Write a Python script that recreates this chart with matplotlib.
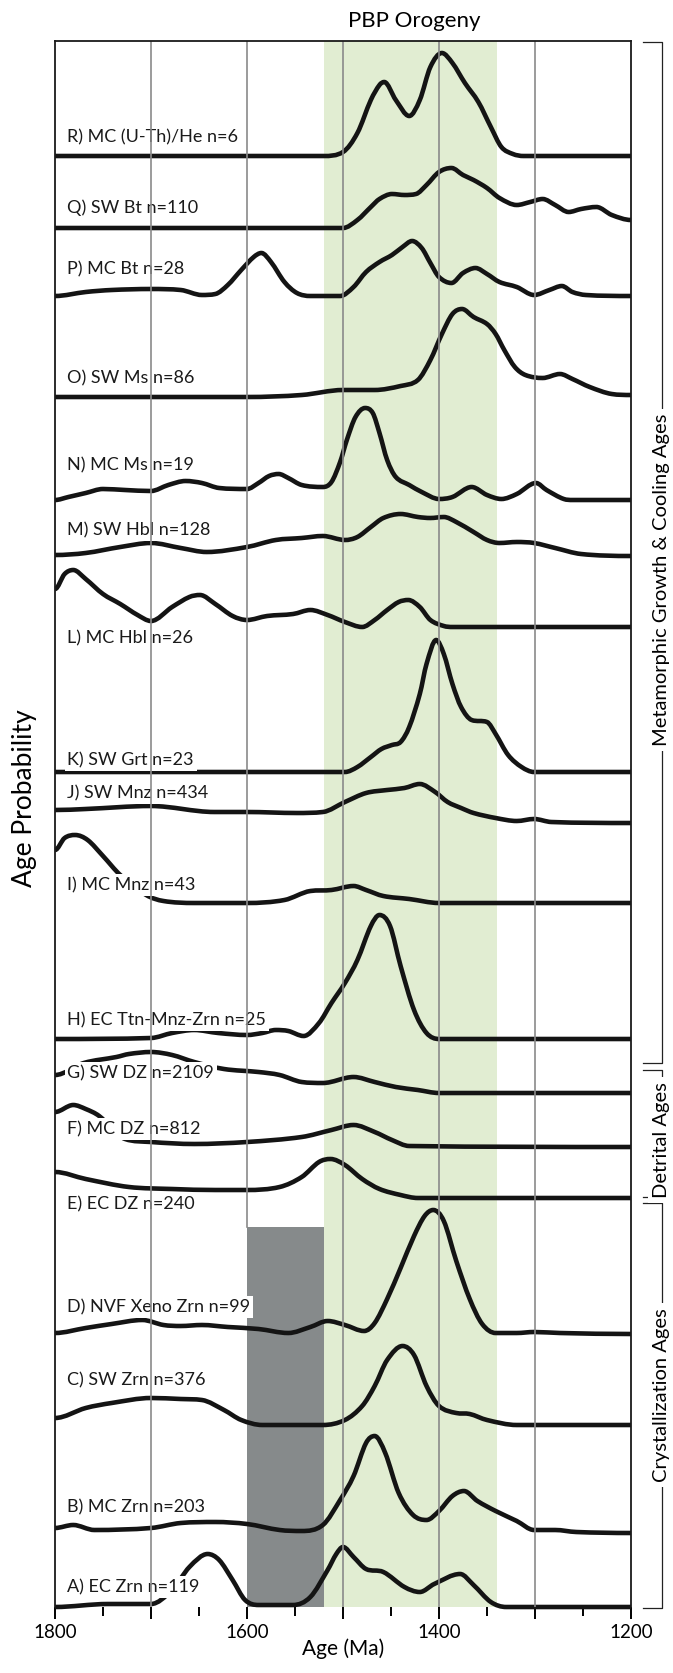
import numpy as np
import matplotlib
matplotlib.use("Agg")
import matplotlib.pyplot as plt
from matplotlib.path import Path
from matplotlib.patches import PathPatch, Rectangle
from matplotlib.lines import Line2D
from matplotlib.ticker import MultipleLocator, FuncFormatter

plt.rcParams['font.family'] = ['Lato', 'DejaVu Sans']

# ---- data: age (Ma) and relative probability height for each sample ----
labels = ["R) MC (U-Th)/He n=6", "Q) SW Bt n=110", "P) MC Bt n=28", "O) SW Ms n=86",
          "N) MC Ms n=19", "M) SW Hbl n=128", "L) MC Hbl n=26", "K) SW Grt n=23",
          "J) SW Mnz n=434", "I) MC Mnz n=43", "H) EC Ttn-Mnz-Zrn n=25", "G) SW DZ n=2109",
          "F) MC DZ n=812", "E) EC DZ n=240", "D) NVF Xeno Zrn n=99", "C) SW Zrn n=376",
          "B) MC Zrn n=203", "A) EC Zrn n=119"]

R_age = [1800, 1520, 1500, 1485, 1471, 1462, 1457, 1445, 1431, 1420, 1409, 1397, 1386, 1373, 1359, 1346, 1335, 1323, 1312, 1200]
R_h = [0, 0, 4, 23, 56, 71, 74, 56, 40, 56, 89, 103, 93, 73, 54, 29, 9, 2, 0, 0]

Q_age = [1800, 1500, 1485, 1471, 1462, 1449, 1436, 1424, 1413, 1400, 1387, 1375, 1364, 1350, 1337, 1319, 1305, 1292, 1279, 1265, 1252, 1236, 1220, 1200]
Q_h = [0, 0, 8, 21, 29, 34, 33, 34, 43, 56, 60, 53, 48, 40, 30, 23, 26, 29, 23, 16, 19, 21, 13, 8]

P_age = [1800, 1768, 1741, 1700, 1669, 1647, 1633, 1620, 1606, 1593, 1585, 1575, 1561, 1548, 1534, 1503, 1489, 1476, 1462, 1449, 1438, 1428, 1418, 1409, 1400, 1387, 1375, 1362, 1350, 1337, 1319, 1301, 1285, 1272, 1261, 1247, 1200]
P_h = [0, 4, 6, 7, 6, 1, 2, 11, 26, 39, 43, 34, 14, 3, 0, 0, 9, 24, 34, 41, 49, 55, 48, 33, 19, 13, 23, 28, 22, 14, 9, 1, 6, 10, 4, 1, 0]

O_age = [1800, 1700, 1600, 1543, 1500, 1467, 1440, 1422, 1409, 1397, 1386, 1376, 1364, 1350, 1341, 1332, 1321, 1310, 1292, 1274, 1261, 1243, 1220, 1200]
O_h = [0, 0, 0, 2, 7, 7, 11, 17, 37, 63, 83, 88, 80, 73, 63, 47, 30, 22, 19, 23, 18, 10, 3, 2]

N_age = [1800, 1786, 1768, 1750, 1727, 1700, 1682, 1664, 1647, 1629, 1600, 1588, 1577, 1567, 1557, 1543, 1521, 1512, 1503, 1496, 1487, 1477, 1469, 1462, 1454, 1445, 1431, 1418, 1400, 1386, 1366, 1350, 1335, 1319, 1299, 1288, 1270, 1261, 1200]
N_h = [0, 3, 7, 11, 10, 9, 15, 19, 17, 12, 11, 17, 24, 26, 22, 15, 13, 18, 38, 60, 83, 92, 87, 67, 40, 23, 15, 8, 1, 3, 13, 5, 1, 6, 17, 10, 1, 0, 0]

M_age = [1800, 1768, 1732, 1700, 1669, 1642, 1600, 1570, 1543, 1521, 1498, 1485, 1471, 1458, 1440, 1422, 1409, 1395, 1382, 1364, 1350, 1337, 1319, 1301, 1279, 1252, 1200]
M_h = [1, 3, 9, 13, 8, 4, 9, 16, 18, 20, 16, 19, 29, 38, 42, 39, 38, 39, 34, 24, 16, 13, 14, 13, 8, 2, 0]

L_age = [1800, 1790, 1781, 1768, 1750, 1732, 1714, 1700, 1678, 1660, 1649, 1633, 1615, 1600, 1579, 1552, 1534, 1516, 1498, 1480, 1467, 1454, 1442, 1432, 1420, 1409, 1395, 1386, 1200]
L_h = [38, 53, 57, 48, 33, 23, 12, 6, 20, 30, 32, 23, 11, 7, 11, 13, 17, 12, 5, 0, 7, 17, 25, 27, 20, 7, 1, 0, 0]

K_age = [1800, 1498, 1485, 1471, 1460, 1449, 1440, 1431, 1420, 1413, 1403, 1395, 1386, 1377, 1366, 1350, 1341, 1328, 1314, 1301, 1200]
K_h = [0, 0, 5, 15, 23, 27, 30, 45, 78, 108, 132, 118, 88, 65, 52, 50, 38, 17, 5, 0, 0]

J_age = [1800, 1768, 1700, 1634, 1600, 1548, 1521, 1498, 1476, 1454, 1436, 1420, 1404, 1391, 1377, 1364, 1341, 1319, 1301, 1283, 1200]
J_h = [13, 14, 17, 11, 11, 10, 11, 21, 30, 33, 35, 39, 31, 21, 15, 10, 5, 2, 4, 1, 0]

I_age = [1800, 1790, 1779, 1766, 1750, 1732, 1705, 1687, 1655, 1600, 1561, 1534, 1512, 1489, 1476, 1458, 1431, 1400, 1200]
I_h = [53, 65, 68, 63, 47, 28, 8, 2, 0, 0, 3, 12, 13, 17, 13, 7, 4, 0, 0]

H_age = [1800, 1700, 1678, 1655, 1630, 1600, 1584, 1570, 1557, 1541, 1525, 1512, 1498, 1485, 1471, 1462, 1451, 1440, 1426, 1413, 1400, 1200]
H_h = [0, 1, 6, 9, 6, 4, 6, 9, 8, 3, 16, 36, 56, 79, 113, 124, 113, 73, 29, 6, 0, 0]

G_age = [1800, 1770, 1736, 1723, 1700, 1678, 1655, 1624, 1588, 1566, 1543, 1521, 1489, 1467, 1445, 1422, 1400, 1200]
G_h = [18, 30, 36, 39, 41, 38, 31, 24, 21, 18, 11, 10, 16, 11, 6, 3, 0, 0]

F_age = [1800, 1781, 1768, 1754, 1727, 1700, 1655, 1600, 1543, 1512, 1489, 1467, 1449, 1431, 1200]
F_h = [35, 42, 38, 31, 8, 5, 3, 5, 10, 17, 22, 15, 7, 1, 0]

E_age = [1800, 1768, 1723, 1678, 1633, 1600, 1566, 1543, 1525, 1513, 1498, 1480, 1462, 1440, 1422, 1200]
E_h = [26, 19, 11, 9, 8, 8, 11, 21, 36, 39, 33, 19, 9, 3, 0, 0]

D_age = [1800, 1768, 1741, 1709, 1687, 1669, 1647, 1620, 1588, 1557, 1534, 1516, 1498, 1478, 1467, 1454, 1440, 1426, 1415, 1406, 1395, 1382, 1368, 1355, 1341, 1319, 1301, 1274, 1200]
D_h = [1, 6, 10, 14, 9, 8, 9, 7, 5, 1, 7, 13, 9, 3, 11, 35, 66, 98, 118, 124, 113, 73, 35, 10, 1, 1, 2, 1, 0]

C_age = [1800, 1768, 1741, 1700, 1669, 1647, 1624, 1606, 1584, 1521, 1498, 1480, 1467, 1454, 1438, 1426, 1413, 1400, 1382, 1368, 1350, 1319, 1200]
C_h = [7, 17, 22, 27, 26, 25, 15, 5, 0, 0, 5, 19, 39, 65, 79, 70, 39, 19, 12, 11, 5, 0, 0]

B_age = [1800, 1781, 1759, 1700, 1669, 1633, 1600, 1566, 1543, 1521, 1503, 1489, 1476, 1467, 1456, 1442, 1427, 1413, 1400, 1386, 1374, 1360, 1341, 1319, 1301, 1279, 1257, 1200]
B_h = [5, 8, 3, 5, 10, 11, 9, 3, 2, 8, 33, 57, 90, 97, 80, 40, 18, 13, 22, 37, 42, 32, 22, 12, 3, 3, 1, 0]

A_age = [1800, 1745, 1700, 1678, 1660, 1641, 1629, 1615, 1602, 1588, 1552, 1534, 1516, 1507, 1500, 1489, 1476, 1458, 1436, 1420, 1405, 1378, 1364, 1346, 1330, 1200]
A_h = [0, 3, 3, 17, 40, 53, 47, 27, 7, 2, 2, 10, 37, 53, 60, 50, 38, 35, 20, 15, 23, 33, 22, 5, 0, 0]

ages = [R_age, Q_age, P_age, O_age, N_age, M_age, L_age, K_age, J_age,
        I_age, H_age, G_age, F_age, E_age, D_age, C_age, B_age, A_age]
heights = [R_h, Q_h, P_h, O_h, N_h, M_h, L_h, K_h, J_h,
           I_h, H_h, G_h, F_h, E_h, D_h, C_h, B_h, A_h]

# ---- layout (vertical offset of each curve, label height) ----
offsets = [1451, 1379, 1311, 1210, 1107, 1051, 980, 835, 784, 704, 568, 514, 460, 409, 273, 182, 74, 0]
label_y = [1470, 1399, 1338, 1229, 1142, 1077, 969, 847, 814, 722, 587, 534, 478, 403, 300, 227, 100, 20]

orogeny = (1520, 1340)
gap_box = (1600, 1520, 380)  # start, end, top of grey box

W, H = 673, 1673
fig = plt.figure(figsize=(W / 100, H / 100), dpi=100)
ax_l, ax_r, ax_t, ax_b = 55, 631, 40.5, 1607
ax = fig.add_axes([ax_l / W, 1 - ax_b / H, (ax_r - ax_l) / W, (ax_b - ax_t) / H])
ax.set_xlim(1800, 1200)
ax.set_ylim(0, ax_b - ax_t)


def smooth_path(x, y):
    """Smooth cubic bezier through the points (central slopes, no overshoot)."""
    x = np.asarray(x, float)
    y = np.asarray(y, float)
    d = np.diff(y) / np.diff(x)
    m = np.zeros_like(y)
    for i in range(1, len(y) - 1):
        if d[i - 1] * d[i] > 0:
            c = (y[i + 1] - y[i - 1]) / (x[i + 1] - x[i - 1])
            lim = 3 * min(abs(d[i - 1]), abs(d[i]))
            m[i] = np.sign(c) * min(abs(c), lim)
    verts = [(x[0], y[0])]
    codes = [Path.MOVETO]
    for i in range(len(x) - 1):
        dx = x[i + 1] - x[i]
        verts += [(x[i] + dx / 3, y[i] + m[i] * dx / 3),
                  (x[i + 1] - dx / 3, y[i + 1] - m[i + 1] * dx / 3),
                  (x[i + 1], y[i + 1])]
        codes += [Path.CURVE4] * 3
    return Path(verts, codes)


ax.axvspan(orogeny[0], orogeny[1], color="#e1edd2", lw=0, zorder=0)
ax.add_patch(Rectangle((gap_box[0], 0), gap_box[1] - gap_box[0], gap_box[2],
                       facecolor="#868a8b", edgecolor="none", zorder=2))

for a, h, off in zip(ages, heights, offsets):
    p = smooth_path(a, np.asarray(h) + off)
    ax.add_patch(PathPatch(p, fill=False, edgecolor="#141414", lw=3.3,
                           capstyle="butt", joinstyle="round", zorder=3, clip_on=False))

for lab, ly in zip(labels, label_y):
    ax.text(1787, ly, lab, fontsize=13, ha="left", va="center", color="#1a1a1a", zorder=4,
            bbox=dict(boxstyle="square,pad=0.15", facecolor="white", edgecolor="none"))

for g in [1700, 1600, 1500, 1400, 1300]:
    top = ax_b - ax_t
    bottom = gap_box[2] / top if g == 1600 else 0
    ax.axvline(g, ymin=bottom, ymax=1, color="#8a8a8a", lw=1.2, zorder=5)

for s in ["left", "right", "top", "bottom"]:
    ax.spines[s].set_linewidth(1.3)
    ax.spines[s].set_color("#1a1a1a")
    ax.spines[s].set_zorder(6)
ax.spines["bottom"].set_visible(False)

ax.set_yticks([])
ax.xaxis.set_major_locator(MultipleLocator(100))
ax.xaxis.set_minor_locator(MultipleLocator(50))
ax.xaxis.set_major_formatter(FuncFormatter(lambda v, p: f"{int(v)}" if int(v) % 200 == 0 else ""))
ax.tick_params(axis="x", which="major", direction="out", length=8.5, width=1.4, labelsize=13.5, pad=4)
ax.tick_params(axis="x", which="minor", direction="out", length=6.5, width=1.4)
ax.set_xlabel("Age (Ma)", fontsize=15, labelpad=-2)

fig.text(414 / W, 1 - 21 / H, "PBP Orogeny", fontsize=16, ha="center", va="center")
fig.text(25 / W, 1 - 798 / H, "Age Probability", fontsize=19, rotation=90, ha="center", va="center")

# ---- side brackets ----
def fig_line(xs, ys):
    fig.add_artist(Line2D([x / W for x in xs], [1 - y / H for y in ys], color="#222222", lw=0.9))


groups = [("Metamorphic Growth & Cooling Ages", 42, 1063, 580),
          ("Detrital Ages", 1070, 1197, 1140),
          ("Crystallization Ages", 1203, 1608, 1395)]
bx, tx = 662, 643
for name, y0, y1, yc in groups:
    fig_line([tx, bx, bx, tx], [y0, y0, y1, y1])
    fig.text(bx / W, 1 - yc / H, name, fontsize=14.5, rotation=90, ha="center", va="center",
             bbox=dict(boxstyle="square,pad=0.25", facecolor="white", edgecolor="none"))

fig.savefig("out.png", dpi=100)
